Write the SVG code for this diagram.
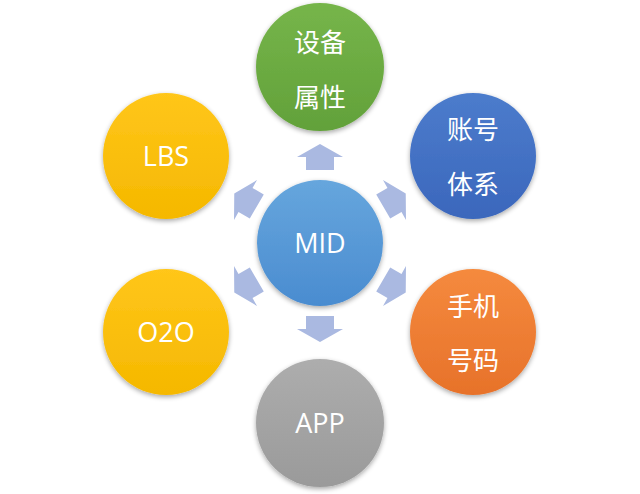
<svg xmlns="http://www.w3.org/2000/svg" width="640" height="494" viewBox="0 0 640 494">
<defs>
<filter id="sh" x="-20%" y="-20%" width="140%" height="140%">
<feGaussianBlur in="SourceAlpha" stdDeviation="2.5"/>
<feOffset dx="0" dy="1.5" result="b"/>
<feComponentTransfer><feFuncA type="linear" slope="0.35"/></feComponentTransfer>
<feMerge><feMergeNode/><feMergeNode in="SourceGraphic"/></feMerge>
</filter>
<linearGradient id="gGreen" x1="0" y1="0" x2="0" y2="1"><stop offset="0" stop-color="#76B54A"/><stop offset="1" stop-color="#62A13A"/></linearGradient>
<linearGradient id="gMid" x1="0" y1="0" x2="0" y2="1"><stop offset="0" stop-color="#66A6DD"/><stop offset="1" stop-color="#4A8CD0"/></linearGradient>
<linearGradient id="gBlue" x1="0" y1="0" x2="0" y2="1"><stop offset="0" stop-color="#4C7CCC"/><stop offset="1" stop-color="#3B67BC"/></linearGradient>
<linearGradient id="gOrange" x1="0" y1="0" x2="0" y2="1"><stop offset="0" stop-color="#F58A3E"/><stop offset="1" stop-color="#E7722A"/></linearGradient>
<linearGradient id="gGrey" x1="0" y1="0" x2="0" y2="1"><stop offset="0" stop-color="#ADADAD"/><stop offset="1" stop-color="#9A9A9A"/></linearGradient>
<linearGradient id="gYellow" x1="0" y1="0" x2="0" y2="1"><stop offset="0" stop-color="#FFC61A"/><stop offset="1" stop-color="#F5B800"/></linearGradient>
<path id="arr" d="M320,144 L343,157 L334,157 L334,170 L306,170 L306,157 L297,157 Z"/>
</defs>
<style>
.c{filter:url(#sh)}
.t{fill:#FFFFFF;font-family:"Open Sans","Noto Sans","Liberation Sans",sans-serif;font-size:27px;text-anchor:middle}
.z{fill:#FFFFFF;font-family:"Noto Sans CJK SC","Noto Sans",sans-serif;font-size:26px;text-anchor:middle}
.a{fill:#AAB9E1}
</style>
<rect width="640" height="494" fill="#FFFFFF"/>
<g id="connectors">
<use href="#arr" class="a"/>
<use href="#arr" class="a" transform="rotate(60 320 243)"/>
<use href="#arr" class="a" transform="rotate(120 320 243)"/>
<use href="#arr" class="a" transform="rotate(180 320 243)"/>
<use href="#arr" class="a" transform="rotate(240 320 243)"/>
<use href="#arr" class="a" transform="rotate(300 320 243)"/>
</g>
<g id="node-mid">
<circle class="c" cx="320" cy="243" r="63" fill="url(#gMid)"/>
<text class="t" x="320" y="253">MID</text>
</g>
<g id="node-device">
<circle class="c" cx="320" cy="67" r="64" fill="url(#gGreen)"/>
<text class="z" x="320" y="52">设备</text>
<text class="z" x="320" y="107">属性</text>
</g>
<g id="node-account">
<circle class="c" cx="473" cy="156" r="63" fill="url(#gBlue)"/>
<text class="z" x="473" y="139">账号</text>
<text class="z" x="473" y="194">体系</text>
</g>
<g id="node-phone">
<circle class="c" cx="473" cy="332" r="63" fill="url(#gOrange)"/>
<text class="z" x="473" y="316">手机</text>
<text class="z" x="473" y="370">号码</text>
</g>
<g id="node-app">
<circle class="c" cx="320" cy="423" r="64" fill="url(#gGrey)"/>
<text class="t" x="320" y="433">APP</text>
</g>
<g id="node-o2o">
<circle class="c" cx="166" cy="332" r="63" fill="url(#gYellow)"/>
<text class="t" x="166" y="342">O2O</text>
</g>
<g id="node-lbs">
<circle class="c" cx="166" cy="156" r="63" fill="url(#gYellow)"/>
<text class="t" x="166" y="166">LBS</text>
</g>
</svg>
